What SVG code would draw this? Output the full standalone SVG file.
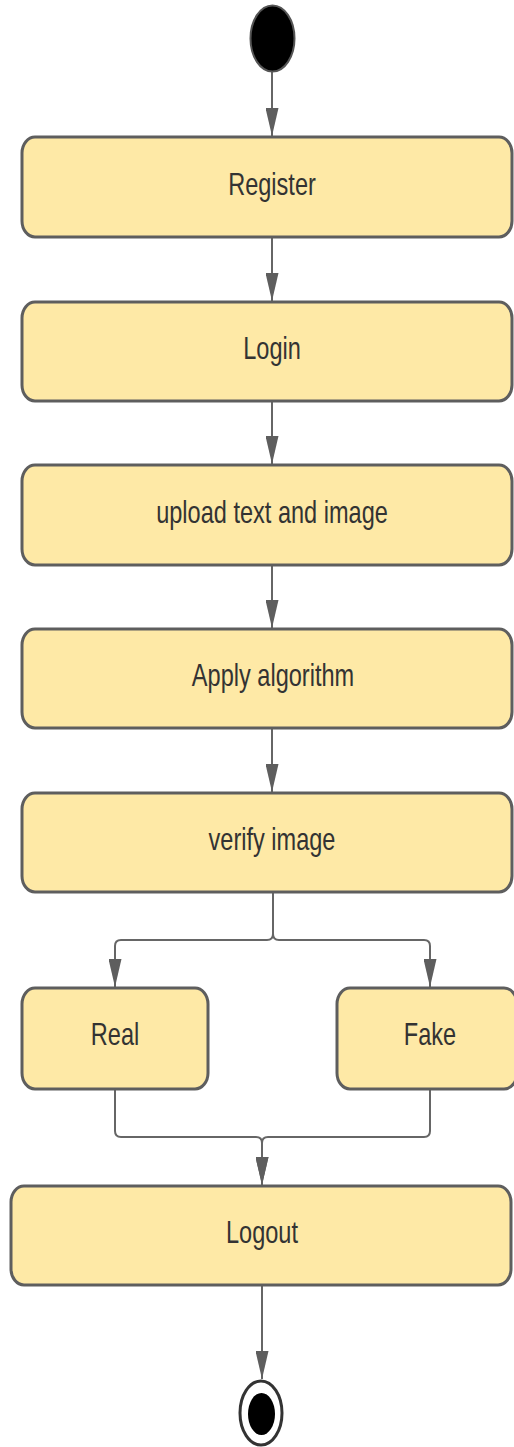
<svg xmlns="http://www.w3.org/2000/svg" width="514" height="1447" viewBox="0 0 514 1447">
<style>
.box{fill:#fee9a6;stroke:#5e5e5e;stroke-width:3}
.lbl{font-family:"Liberation Sans",Arial,sans-serif;font-size:31px;fill:#333;text-anchor:middle}
.con{fill:none;stroke:#666;stroke-width:2}
</style>
<defs>
<marker id="ah" viewBox="0 0 28 13" markerWidth="28" markerHeight="13" refX="28" refY="6.5" orient="auto" markerUnits="userSpaceOnUse">
<path d="M0,0 L28,6.5 L0,13 z" fill="#5e5e5e"/>
</marker>
</defs>
<rect width="514" height="1447" fill="#fff"/>
<g id="connectors">
<path class="con" d="M272,72 V136" marker-end="url(#ah)"/>
<path class="con" d="M272,238 V301" marker-end="url(#ah)"/>
<path class="con" d="M272,402 V464" marker-end="url(#ah)"/>
<path class="con" d="M272,566 V628" marker-end="url(#ah)"/>
<path class="con" d="M272,729 V792" marker-end="url(#ah)"/>
<path class="con" d="M273,893 V934 Q273,940 267,940 H121 Q115,940 115,946 V987" marker-end="url(#ah)"/>
<path class="con" d="M273,893 V934 Q273,940 279,940 H424 Q430,940 430,946 V987" marker-end="url(#ah)"/>
<path class="con" d="M115,1090 V1131 Q115,1137 121,1137 H256 Q262,1137 262,1143 V1185" marker-end="url(#ah)"/>
<path class="con" d="M430,1090 V1131 Q430,1137 424,1137 H268 Q262,1137 262,1143 V1185" marker-end="url(#ah)"/>
<path class="con" d="M262,1286 V1379" marker-end="url(#ah)"/>
</g>
<g id="start">
<ellipse cx="272.5" cy="38.5" rx="22" ry="33" fill="#000" stroke="#555" stroke-width="2"/>
</g>
<g id="register">
<rect class="box" x="22" y="137" width="490" height="100" rx="13" ry="16"/>
<text class="lbl" transform="translate(272,195) scale(0.76,1)">Register</text>
</g>
<g id="login">
<rect class="box" x="22" y="302" width="490" height="99" rx="13" ry="16"/>
<text class="lbl" transform="translate(272,359) scale(0.76,1)">Login</text>
</g>
<g id="upload">
<rect class="box" x="22" y="465" width="490" height="100" rx="13" ry="16"/>
<text class="lbl" transform="translate(272,523) scale(0.76,1)">upload text and image</text>
</g>
<g id="apply">
<rect class="box" x="22" y="629" width="490" height="99" rx="13" ry="16"/>
<text class="lbl" transform="translate(273,686) scale(0.76,1)">Apply algorithm</text>
</g>
<g id="verify">
<rect class="box" x="22" y="793" width="490" height="99" rx="13" ry="16"/>
<text class="lbl" transform="translate(272,850) scale(0.76,1)">verify image</text>
</g>
<g id="real">
<rect class="box" x="22" y="988" width="186" height="101" rx="13" ry="16"/>
<text class="lbl" transform="translate(115,1045) scale(0.76,1)">Real</text>
</g>
<g id="fake">
<rect class="box" x="337" y="988" width="180" height="101" rx="13" ry="16"/>
<text class="lbl" transform="translate(430,1045) scale(0.76,1)">Fake</text>
</g>
<g id="logout">
<rect class="box" x="11" y="1186" width="500" height="99" rx="13" ry="16"/>
<text class="lbl" transform="translate(262,1243) scale(0.76,1)">Logout</text>
</g>
<g id="end">
<ellipse cx="261" cy="1413" rx="21" ry="32" fill="#fff" stroke="#333" stroke-width="3"/>
<ellipse cx="261.5" cy="1414" rx="13.5" ry="21" fill="#000"/>
</g>
</svg>
